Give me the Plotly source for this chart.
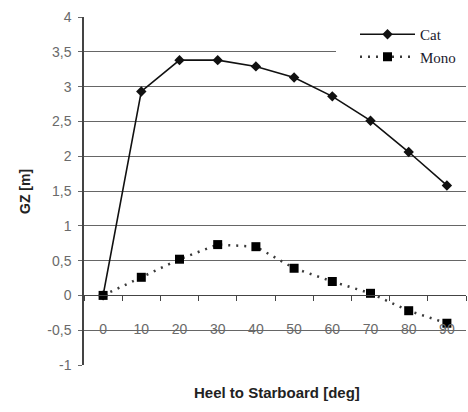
import plotly.graph_objects as go

heel_deg = ["0", "10", "20", "30", "40", "50", "60", "70", "80", "90"]
gz_cat = [0.0, 2.93, 3.38, 3.38, 3.29, 3.13, 2.86, 2.51, 2.06, 1.58]
gz_mono = [0.0, 0.26, 0.52, 0.73, 0.70, 0.39, 0.20, 0.03, -0.22, -0.40]
y_tick_vals = [-1, -0.5, 0, 0.5, 1, 1.5, 2, 2.5, 3, 3.5, 4]
y_tick_labels = ["-1", "-0,5", "0", "0,5", "1", "1,5", "2", "2,5", "3", "3,5", "4"]

L, R, T, B = 84, 2, 17, 47
W, H = 468, 412
PW, PH = W - L - R, H - T - B


def px_x(x):
    return (x - L) / PW


def px_y(y):
    return (H - B - y) / PH


fig = go.Figure()
fig.add_trace(go.Scatter(
    x=heel_deg, y=gz_cat, name="Cat", mode="lines+markers",
    line=dict(color="#111111", width=1.6),
    marker=dict(symbol="diamond", size=8, color="#111111"),
    legendgroup="a",
))
fig.add_trace(go.Scatter(
    x=heel_deg, y=gz_mono, name="Mono", mode="lines+markers",
    line=dict(color="#3a3a3a", width=2.5, dash="2px,6px"),
    marker=dict(symbol="square", size=9, color="#000000"),
    legendgroup="b",
))

fig.update_layout(
    width=W, height=H,
    margin=dict(l=L, r=R, t=T, b=B),
    paper_bgcolor="white", plot_bgcolor="white",
    showlegend=True,
    legend=dict(
        x=px_x(355), y=px_y(18), xanchor="left", yanchor="top",
        bgcolor="rgba(0,0,0,0)", borderwidth=0,
        font=dict(family="Liberation Serif", size=15, color="#1a1a2e"),
        tracegroupgap=0, itemwidth=55,
    ),
    shapes=[
        dict(type="rect", xref="paper", yref="paper",
             x0=px_x(336), x1=1.02, y0=px_y(74), y1=px_y(8),
             fillcolor="white", line=dict(width=0), layer="above"),
    ],
    xaxis=dict(
        type="category", anchor="free", position=0.2,
        showgrid=False, showline=True, linecolor="#444444", linewidth=1,
        ticks="outside", tickson="boundaries", ticklen=5, tickcolor="#444444",
        tickfont=dict(family="Liberation Sans", size=14, color="#6a6a6a"),
        ticklabelstandoff=21,
        range=[-0.5, 9.5],
    ),
    yaxis=dict(
        range=[-1, 4], tickvals=y_tick_vals, ticktext=y_tick_labels,
        showgrid=True, gridcolor="#666666", gridwidth=1,
        zeroline=False,
        showline=True, linecolor="#444444", linewidth=1.5,
        ticks="outside", ticklen=4, tickcolor="#666666",
        tickfont=dict(family="Liberation Sans", size=14, color="#6a6a6a"),
        ticklabelstandoff=4,
    ),
    annotations=[
        dict(text="<b>Heel to Starboard [deg]</b>", xref="paper", yref="paper",
             x=px_x(277), y=px_y(392), xanchor="center", yanchor="middle", showarrow=False,
             font=dict(family="Liberation Sans", size=15, color="#222222")),
        dict(text="<b>GZ [m]</b>", xref="paper", yref="paper",
             x=px_x(25), y=px_y(192), xanchor="center", yanchor="middle", showarrow=False,
             textangle=-90,
             font=dict(family="Liberation Sans", size=14, color="#222222")),
    ],
)

fig.write_html("out.html", config={"displayModeBar": False},
               post_script="document.body.style.margin='0';")
